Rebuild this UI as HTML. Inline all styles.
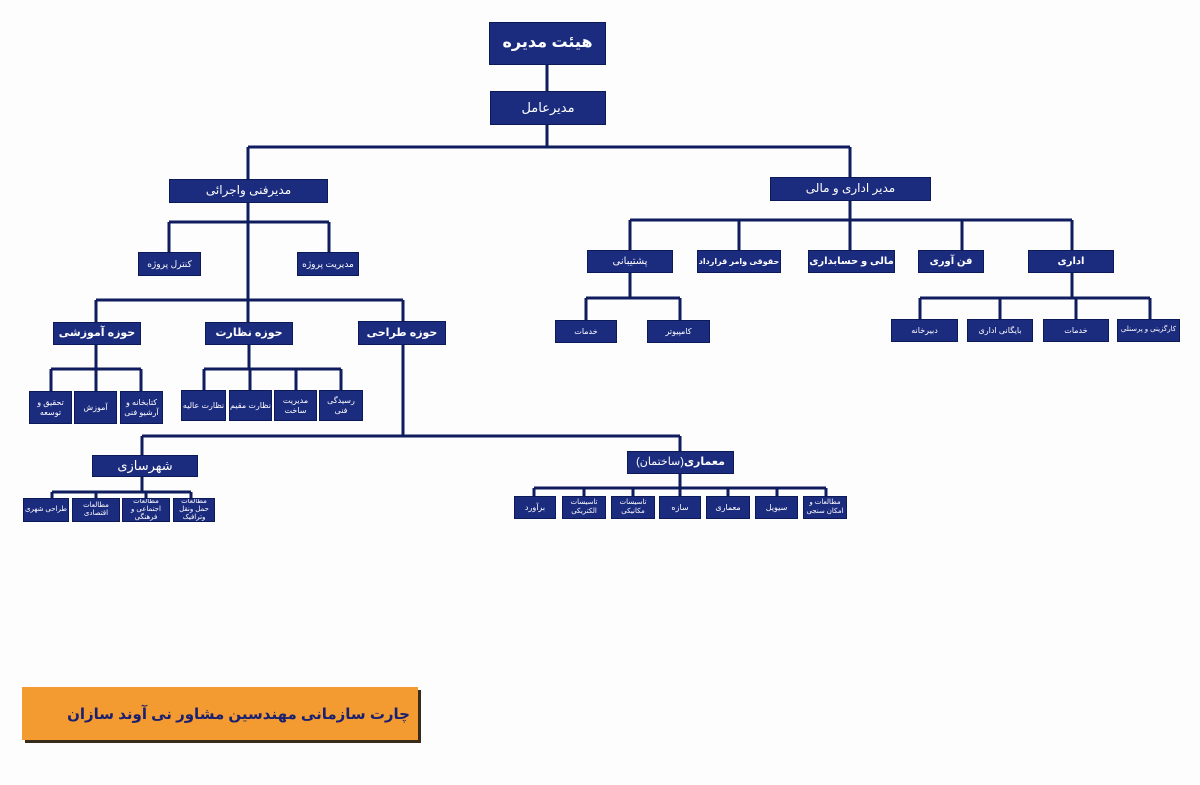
<!DOCTYPE html>
<html><head><meta charset="utf-8"><style>
body{margin:0;width:1200px;height:785px;background:#fdfdfd;position:relative;overflow:hidden;font-family:"Liberation Sans","Noto Sans CJK SC","DejaVu Sans",sans-serif}
.b{position:absolute;background:#1b2b7e;border:1px solid #0d1a5a;color:#fff;display:flex;align-items:center;justify-content:center;text-align:center;direction:rtl;box-sizing:border-box;line-height:1.15;overflow:hidden}
svg{position:absolute;left:0;top:0}
</style></head><body>
<svg width="1200" height="785"><g stroke="#0f1c5e" stroke-width="3" fill="none">
<path d="M547 65V91M547 125V147M248 147H850M248 147V322M850 147V177"/>
<path d="M169 222H329M169 222V252M329 222V252"/>
<path d="M96 300H403M96 300V322M403 300V436"/>
<path d="M96 345V369M51 369H141M51 369V391M96 369V391M141 369V391"/>
<path d="M249 345V369M204 369H341M204 369V390M250 369V390M296 369V390M341 369V390"/>
<path d="M142 436H680M142 436V455M680 436V451"/>
<path d="M142 477V492M52 492H191M52 492V498M96 492V498M146 492V498M191 492V498"/>
<path d="M680 474V488M534 488H826M534 488V496M584 488V496M633 488V496M680 488V496M728 488V496M777 488V496M826 488V496"/>
<path d="M850 201V220M630 220H1072M630 220V250M739 220V250M850 220V250M962 220V250M1072 220V250"/>
<path d="M630 273V298M586 298H680M586 298V320M680 298V320"/>
<path d="M1072 273V298M920 298H1150M920 298V319M1000 298V319M1076 298V319M1150 298V319"/>
</g></svg>
<div class="b" style="left:489px;top:22px;width:117px;height:43px;font-size:16px;font-weight:bold">هیئت مدیره</div>
<div class="b" style="left:490px;top:91px;width:116px;height:34px;font-size:13px">مدیرعامل</div>
<div class="b" style="left:169px;top:179px;width:159px;height:24px;font-size:12px">مدیرفنی واجرائی</div>
<div class="b" style="left:770px;top:177px;width:161px;height:24px;font-size:12px">مدیر اداری و مالی</div>
<div class="b" style="left:138px;top:252px;width:63px;height:24px;font-size:9px">کنترل پروژه</div>
<div class="b" style="left:297px;top:252px;width:62px;height:24px;font-size:9px">مدیریت پروژه</div>
<div class="b" style="left:53px;top:322px;width:88px;height:23px;font-size:11px;font-weight:bold">حوزه آموزشی</div>
<div class="b" style="left:205px;top:322px;width:88px;height:23px;font-size:11px;font-weight:bold">حوزه نظارت</div>
<div class="b" style="left:358px;top:321px;width:88px;height:24px;font-size:11px;font-weight:bold">حوزه طراحی</div>
<div class="b" style="left:29px;top:391px;width:43px;height:33px;font-size:8px">تحقیق و توسعه</div>
<div class="b" style="left:74px;top:391px;width:43px;height:33px;font-size:8px">آموزش</div>
<div class="b" style="left:120px;top:391px;width:43px;height:33px;font-size:8px">کتابخانه و آرشیو فنی</div>
<div class="b" style="left:181px;top:390px;width:45px;height:31px;font-size:8px">نظارت عالیه</div>
<div class="b" style="left:229px;top:390px;width:43px;height:31px;font-size:8px">نظارت مقیم</div>
<div class="b" style="left:274px;top:390px;width:43px;height:31px;font-size:8px">مدیریت ساخت</div>
<div class="b" style="left:319px;top:390px;width:44px;height:31px;font-size:8px">رسیدگی فنی</div>
<div class="b" style="left:92px;top:455px;width:106px;height:22px;font-size:13px">شهرسازی</div>
<div class="b" style="left:23px;top:498px;width:46px;height:24px;font-size:7px">طراحی شهری</div>
<div class="b" style="left:72px;top:498px;width:48px;height:24px;font-size:7px">مطالعات اقتصادی</div>
<div class="b" style="left:122px;top:498px;width:48px;height:24px;font-size:7px">مطالعات اجتماعی و فرهنگی</div>
<div class="b" style="left:173px;top:498px;width:42px;height:24px;font-size:7px">مطالعات حمل ونقل وترافیک</div>
<div class="b" style="left:627px;top:451px;width:107px;height:23px;font-size:11px"><b>معماری</b>(ساختمان)</div>
<div class="b" style="left:514px;top:496px;width:42px;height:23px;font-size:8px">برآورد</div>
<div class="b" style="left:562px;top:496px;width:44px;height:23px;font-size:7px">تاسیسات الکتریکی</div>
<div class="b" style="left:611px;top:496px;width:44px;height:23px;font-size:7px">تاسیسات مکانیکی</div>
<div class="b" style="left:659px;top:496px;width:42px;height:23px;font-size:8px">سازه</div>
<div class="b" style="left:706px;top:496px;width:44px;height:23px;font-size:8px">معماری</div>
<div class="b" style="left:755px;top:496px;width:43px;height:23px;font-size:8px">سیویل</div>
<div class="b" style="left:803px;top:496px;width:44px;height:23px;font-size:7px">مطالعات و امکان سنجی</div>
<div class="b" style="left:587px;top:250px;width:86px;height:23px;font-size:10px">پشتیبانی</div>
<div class="b" style="left:697px;top:250px;width:84px;height:23px;font-size:8px;font-weight:bold;white-space:nowrap">حقوقی وامر قرارداد</div>
<div class="b" style="left:808px;top:250px;width:87px;height:23px;font-size:10px;font-weight:bold">مالی و حسابداری</div>
<div class="b" style="left:918px;top:250px;width:66px;height:23px;font-size:10px;font-weight:bold">فن آوری</div>
<div class="b" style="left:1028px;top:250px;width:86px;height:23px;font-size:10px;font-weight:bold">اداری</div>
<div class="b" style="left:555px;top:320px;width:62px;height:23px;font-size:8px">خدمات</div>
<div class="b" style="left:647px;top:320px;width:63px;height:23px;font-size:8px">کامپیوتر</div>
<div class="b" style="left:891px;top:319px;width:67px;height:23px;font-size:8px">دبیرخانه</div>
<div class="b" style="left:967px;top:319px;width:66px;height:23px;font-size:8px">بایگانی اداری</div>
<div class="b" style="left:1043px;top:319px;width:66px;height:23px;font-size:8px">خدمات</div>
<div class="b" style="left:1117px;top:319px;width:63px;height:23px;font-size:7px;white-space:nowrap">کارگزینی و پرسنلی</div>
<div style="position:absolute;left:22px;top:687px;width:396px;height:53px;background:#f39a30;box-shadow:3px 3px 0 #3a2a1a;direction:rtl;box-sizing:border-box;padding-right:8px;display:flex;align-items:center;color:#1a2070;font-size:15px;font-weight:bold;white-space:nowrap">چارت سازمانی مهندسین مشاور نی آوند سازان</div>
</body></html>
